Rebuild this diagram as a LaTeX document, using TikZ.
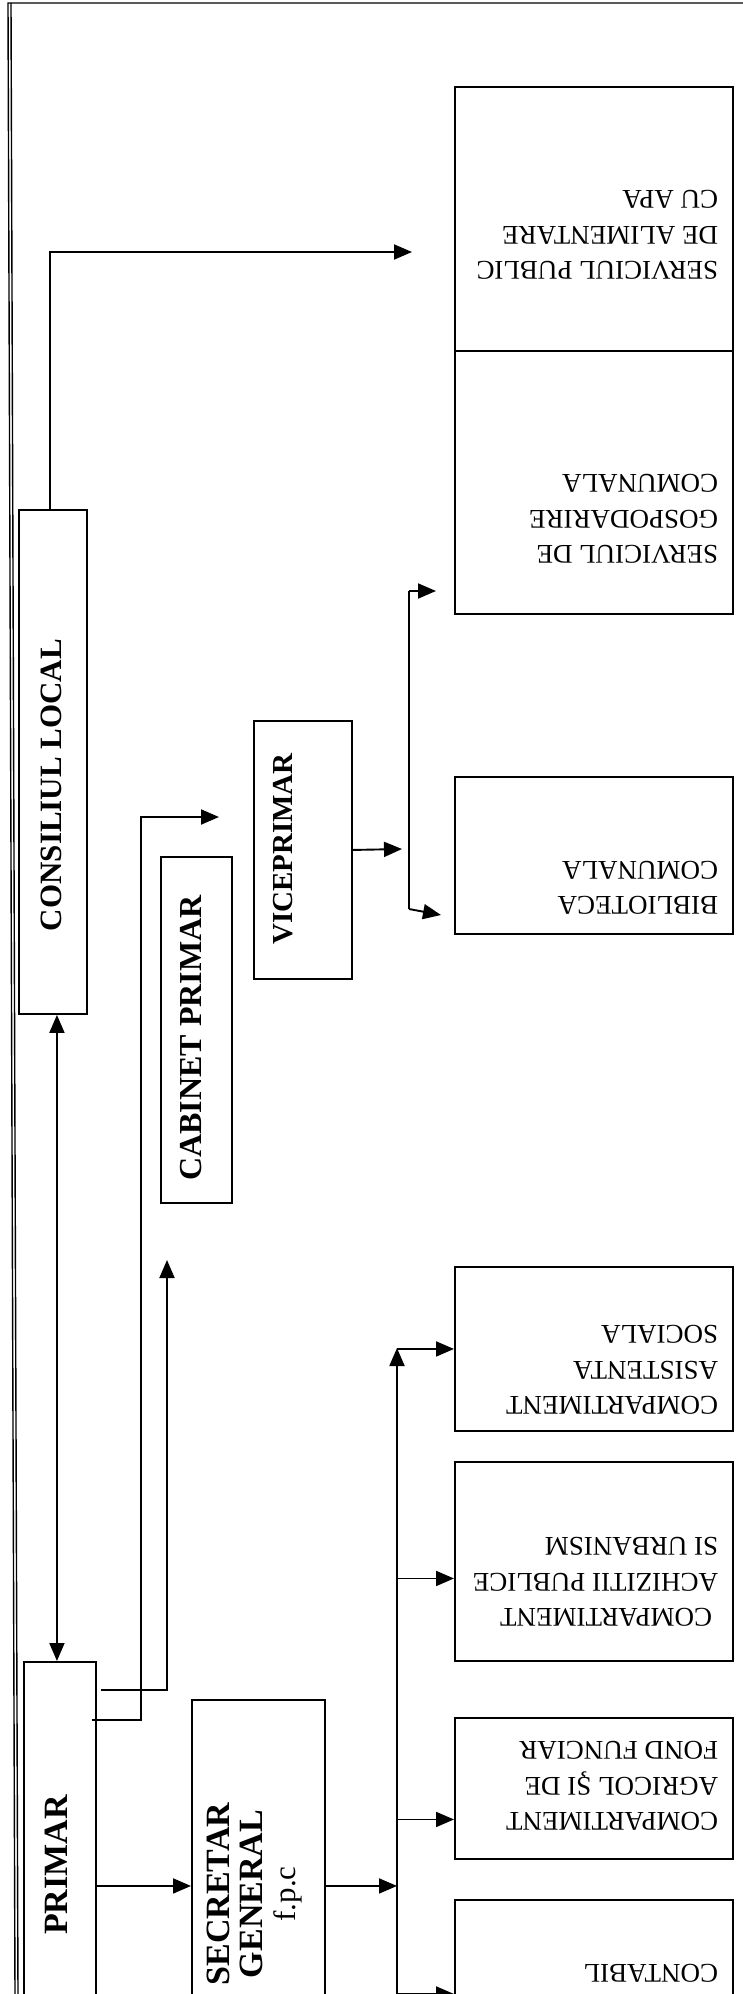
\documentclass[tikz,border=0pt]{standalone}
\usepackage{fontspec}
\setmainfont{Liberation Serif}
\usetikzlibrary{arrows.meta}

\begin{document}
\begin{tikzpicture}[x=1pt, y=-1pt, line width=1.9pt]
	\tikzstyle{box}=[draw, anchor=north west, inner sep=0pt]
	\tikzstyle{lbl}=[font=\fontsize{31}{32}\selectfont\bfseries, rotate=90, align=center, inner sep=0pt]
	\tikzstyle{rtxt}=[font=\fontsize{27}{35.5}\selectfont, rotate=180, align=left, anchor=west, inner sep=0pt]
	\tikzstyle{arr}=[-{Triangle[length=18pt,width=15pt]}]
	\tikzstyle{dbl}=[{Triangle[length=18pt,width=15pt]}-{Triangle[length=18pt,width=15pt]}]
	
	\useasboundingbox (0,0) rectangle (743,1994);
	\clip (0,0) rectangle (743,1994);
	\draw[line width=1.4pt] (743,3) -- (8,3) -- (15,1994);
	\draw[line width=1.4pt] (11,3) -- (18,1994);
	
	\node[box, minimum width=68, minimum height=504] (cl) at (18,509) {};
	\node[box, minimum width=72, minimum height=448] (primar) at (23,1661) {};
	\node[box, minimum width=71, minimum height=346] (cabinet) at (160,856) {};
	\node[box, minimum width=98, minimum height=258] (vice) at (253,720) {};
	\node[box, minimum width=133, minimum height=372] (secretar) at (191,1699) {};
	\node[box, minimum width=278, minimum height=264] (spa) at (454,86) {};
	\node[box, minimum width=278, minimum height=263] (sgc) at (454,350) {};
	\node[box, minimum width=278, minimum height=157] (bib) at (454,776) {};
	\node[box, minimum width=278, minimum height=164] (asis) at (454,1266) {};
	\node[box, minimum width=278, minimum height=199] (achiz) at (454,1461) {};
	\node[box, minimum width=278, minimum height=141] (agric) at (454,1717) {};
	\node[box, minimum width=278, minimum height=188] (contab) at (454,1899) {};
	
	\node[lbl] (cl-t) at (51,785) {CONSILIUL LOCAL};
	\node[lbl, font=\fontsize{34}{34}\selectfont\bfseries] (primar-t) at (56,1865) {PRIMAR};
	\node[lbl, font=\fontsize{32}{32}\selectfont\bfseries] (cabinet-t) at (191,1038) {CABINET PRIMAR};
	\node[lbl, font=\fontsize{29}{30}\selectfont\bfseries] (vice-t) at (283,849) {VICEPRIMAR};
	\node[lbl, font=\fontsize{34}{33}\selectfont] (secretar-t) at (255,1894) {\textbf{SECRETAR}\\\textbf{GENERAL}\\{\fontsize{31}{33}\selectfont f.p.c}};
	
	\node[rtxt] (spa-t) at (719,235) {SERVICIUL PUBLIC\\DE ALIMENTARE\\CU APA};
	\node[rtxt] (sgc-t) at (719,519) {SERVICIUL DE\\GOSPODARIRE\\COMUNALA};
	\node[rtxt] (bib-t) at (719,888) {BIBLIOTECA\\COMUNALA};
	\node[rtxt] (asis-t) at (719,1370) {COMPARTIMENT\\ASISTENTA\\SOCIALA};
	\node[rtxt] (achiz-t) at (719,1582) {\hspace*{6pt}COMPARTIMENT\\ACHIZITII PUBLICE\\SI URBANISM};
	\node[rtxt] (agric-t) at (719,1786) {COMPARTIMENT\\AGRICOL ŞI DE\\FOND FUNCIAR};
	\node[rtxt] (contab-t) at (719,1973) {CONTABIL};
	
	\coordinate (spa-in) at (412,252);
	\coordinate (cab-in) at (167,1260);
	\coordinate (vice-in) at (219,817);
	\coordinate (vice-out) at (402,849);
	\coordinate (vb-top) at (409,591);
	\coordinate (vb-bot) at (409,909);
	\coordinate (sgc-in) at (436,591);
	\coordinate (bib-in) at (441,915);
	\coordinate (bus-top) at (397,1348);
	\coordinate (bus-bot) at (397,2000);
	
	\draw[arr] ([xshift=-3pt]cl.north) |- (spa-in);
	\draw[dbl] ([xshift=4pt]cl.south) -- ([xshift=-3pt]primar.north);
	\draw[arr] ([shift={(4,29)}]primar.north east) -| (cab-in);
	\draw[arr] ([shift={(-5,59)}]primar.north east) -| ([xshift=-78pt]vice-in) -- (vice-in);
	\draw[arr] (vice.east) -- (vice-out);
	\draw (vb-top) -- (vb-bot);
	\draw[arr] (vb-top) -- (sgc-in);
	\draw[arr] (vb-bot) -- (bib-in);
	\draw[arr] (primar.east) -- (secretar.west);
	\draw[arr] (secretar.east) -- (secretar.east -| bus-top);
	\draw[arr] (bus-bot) -- (bus-top);
	\foreach \b/\d in {asis/0, achiz/17, agric/31, contab/0}
		\draw[arr] ([shift={(-57,\d)}]\b.west) -- ([shift={(0,\d)}]\b.west);
\end{tikzpicture}
\end{document}
